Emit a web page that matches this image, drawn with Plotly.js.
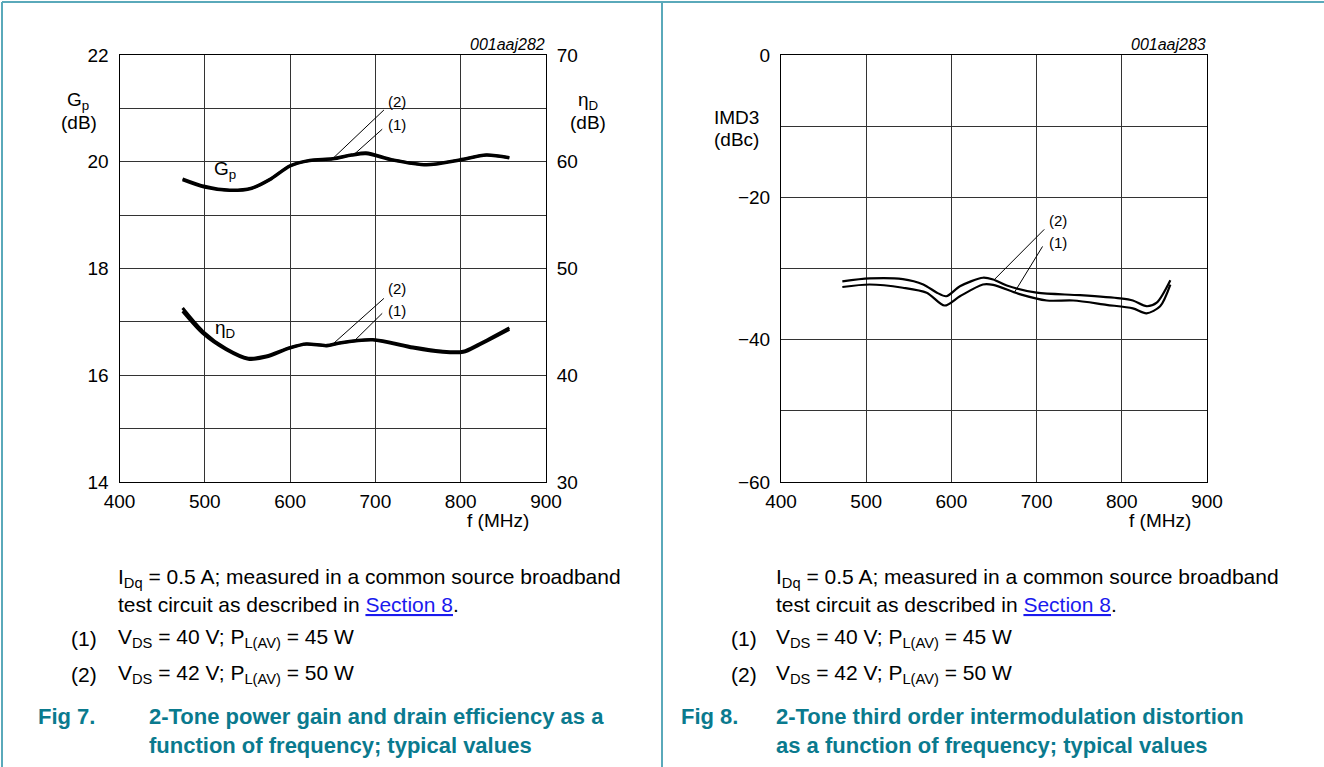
<!DOCTYPE html>
<html>
<head>
<meta charset="utf-8">
<script src="https://cdn.plot.ly/plotly-3.0.1.min.js"></script>
<style>
  html, body { margin: 0; padding: 0; background: #fff; }
  #chart { width: 1324px; height: 767px; }
</style>
</head>
<body>
<div id="chart"></div>
<script>
// Frequency sweep, MHz
const freqGp = [474, 500, 529, 555, 576, 600, 623, 650, 672, 689, 720, 760, 799, 830, 857];
// Power gain, dB: (1) VDS = 40 V, (2) VDS = 42 V
const gp1 = [19.66, 19.52, 19.46, 19.50, 19.66, 19.92, 20.02, 20.05, 20.12, 20.15, 20.03, 19.94, 20.03, 20.12, 20.07];
const gp2 = [19.68, 19.54, 19.47, 19.51, 19.67, 19.93, 20.03, 20.06, 20.13, 20.17, 20.04, 19.95, 20.04, 20.13, 20.08];

const freqEta = [474, 498, 525, 551, 572, 600, 619, 643, 658, 697, 744, 779, 803, 822, 857];
// Drain efficiency
const eta1 = [46.0, 43.9, 42.4, 41.5, 41.7, 42.55, 42.9, 42.75, 43.0, 43.3, 42.55, 42.15, 42.15, 42.85, 44.3];
const eta2 = [46.3, 44.1, 42.5, 41.6, 41.8, 42.6, 42.95, 42.8, 43.05, 43.35, 42.65, 42.25, 42.25, 42.95, 44.45];

// Third-order intermodulation distortion, dBc
const freqImd1 = [472, 504, 543, 571, 592, 610, 637, 649, 680, 712, 743, 782, 813, 829, 845, 857];
const imd1 = [-32.6, -32.25, -32.7, -33.4, -35.2, -33.9, -32.25, -32.3, -33.6, -34.5, -34.5, -35.1, -35.6, -36.3, -35.3, -32.25];
const freqImd2 = [472, 504, 543, 567, 583, 594, 610, 637, 649, 665, 700, 751, 798, 813, 829, 841, 857];
const imd2 = [-31.8, -31.4, -31.5, -32.25, -33.4, -33.9, -32.5, -31.3, -31.55, -32.4, -33.4, -33.75, -34.2, -34.5, -35.3, -34.8, -31.65];

// Axis ticks
const freqTicks = [400, 500, 600, 700, 800, 900];
const gpTicks = [14, 16, 18, 20, 22];
const etaTicks = [30, 40, 50, 60, 70];
const imdTicks = [-60, -40, -20, 0];

// Leader targets: frequency on the curve for series (2) and (1)
const leaderFreq = { s2: 650, s1: 674 };

const W = 1324, H = 767;
const px = x => x / W;
const py = y => 1 - y / H;

function interp(xs, ys, x) {
  for (let i = 0; i < xs.length - 1; i++) {
    if (x >= xs[i] && x <= xs[i + 1]) {
      const t = (x - xs[i]) / (xs[i + 1] - xs[i]);
      return ys[i] + t * (ys[i + 1] - ys[i]);
    }
  }
  return ys[ys.length - 1];
}

const FONT = 'Liberation Sans, Arial, sans-serif';
const TEAL = '#0a7a8e';
const FRAME = '#5aa9ba';
const GRID = '#333';

const curveLine = { color: '#000', width: 3, shape: 'spline', smoothing: 0.8 };
const thinLine = { color: '#000', width: 2.2, shape: 'spline', smoothing: 0.8 };

const traces = [
  { x: freqGp, y: gp1, xaxis: 'x', yaxis: 'y', mode: 'lines', line: curveLine, name: '(1)' },
  { x: freqGp, y: gp2, xaxis: 'x', yaxis: 'y', mode: 'lines', line: curveLine, name: '(2)' },
  { x: freqEta, y: eta1, xaxis: 'x', yaxis: 'y2', mode: 'lines', line: curveLine, name: '(1)' },
  { x: freqEta, y: eta2, xaxis: 'x', yaxis: 'y2', mode: 'lines', line: curveLine, name: '(2)' },
  { x: freqImd1, y: imd1, xaxis: 'x2', yaxis: 'y3', mode: 'lines', line: thinLine, name: '(1)' },
  { x: freqImd2, y: imd2, xaxis: 'x2', yaxis: 'y3', mode: 'lines', line: thinLine, name: '(2)' }
];

const axisCommon = {
  showline: true, mirror: true, linecolor: '#000', linewidth: 1,
  showgrid: true, gridcolor: GRID, gridwidth: 1, zeroline: false,
  ticks: 'outside', ticklen: 6, tickcolor: 'rgba(0,0,0,0)',
  tickfont: { family: FONT, size: 19, color: '#000' }
};

const leftX = [px(119.5), px(546)];
const rightX = [px(781), px(1207)];
const plotY = [py(482), py(55)];

const layout = {
  width: W, height: H,
  margin: { l: 0, r: 0, t: 0, b: 0 },
  paper_bgcolor: '#fff', plot_bgcolor: '#fff',
  showlegend: false,
  font: { family: FONT, color: '#000' },
  xaxis: Object.assign({}, axisCommon, { domain: leftX, anchor: 'y', range: [400, 900], tickvals: freqTicks, ticklen: 2 }),
  yaxis: Object.assign({}, axisCommon, {
    domain: plotY, anchor: 'x', range: [14, 22], tickvals: gpTicks,
    minor: { dtick: 1, showgrid: true, gridcolor: GRID, gridwidth: 1, ticks: '' }
  }),
  yaxis2: Object.assign({}, axisCommon, {
    overlaying: 'y', side: 'right', anchor: 'x', range: [30, 70], tickvals: etaTicks,
    showgrid: false
  }),
  xaxis2: Object.assign({}, axisCommon, { domain: rightX, anchor: 'y3', range: [400, 900], tickvals: freqTicks, ticklen: 2 }),
  yaxis3: Object.assign({}, axisCommon, {
    domain: plotY, anchor: 'x2', range: [-60, 0], tickvals: imdTicks,
    minor: { dtick: 10, showgrid: true, gridcolor: GRID, gridwidth: 1, ticks: '' }
  }),
  shapes: [],
  annotations: []
};

// Page frame
const frameLine = { color: FRAME, width: 2 };
layout.shapes.push(
  { type: 'line', xref: 'paper', yref: 'paper', x0: px(2), x1: px(1324), y0: py(2), y1: py(2), line: frameLine },
  { type: 'line', xref: 'paper', yref: 'paper', x0: px(2), x1: px(2), y0: py(2), y1: py(767), line: frameLine },
  { type: 'line', xref: 'paper', yref: 'paper', x0: px(662), x1: px(662), y0: py(2), y1: py(767), line: frameLine }
);

// Gaps in the grid behind the curve names
layout.shapes.push(
  { type: 'rect', xref: 'x', yref: 'y', x0: 505, x1: 549, y0: 19.95, y1: 20.05, layer: 'below',
    fillcolor: '#fff', line: { width: 0 } },
  { type: 'rect', xref: 'x', yref: 'y', x0: 505, x1: 549, y0: 16.95, y1: 17.05, layer: 'below',
    fillcolor: '#fff', line: { width: 0 } }
);

const ann = layout.annotations;
function text(t, x, y, opts) {
  ann.push(Object.assign({
    text: t, xref: 'paper', yref: 'paper', x: px(x), y: py(y),
    xanchor: 'left', yanchor: 'middle', showarrow: false,
    font: { family: FONT, size: 21, color: '#000' }
  }, opts || {}));
}

const axFont = { family: FONT, size: 19, color: '#000' };
// Axis titles
text('G<sub>p</sub>', 78, 101, { xanchor: 'center', font: axFont });
text('(dB)', 79, 122, { xanchor: 'center', font: axFont });
text('η<sub>D</sub>', 588, 101, { xanchor: 'center', font: axFont });
text('(dB)', 588, 122, { xanchor: 'center', font: axFont });
text('f (MHz)', 498, 520, { xanchor: 'center', font: axFont });
text('IMD3', 737, 117, { xanchor: 'center', font: axFont });
text('(dBc)', 737, 139, { xanchor: 'center', font: axFont });
text('f (MHz)', 1160, 520, { xanchor: 'center', font: axFont });
text('<i>001aaj282</i>', 547, 44, { xanchor: 'right', font: { family: FONT, size: 16, color: '#000' } });
text('<i>001aaj283</i>', 1208, 44, { xanchor: 'right', font: { family: FONT, size: 16, color: '#000' } });

// Curve labels inside the left plot
ann.push({ text: 'G<sub>p</sub>', xref: 'x', yref: 'y', x: 524, y: 19.84, showarrow: false,
  font: { family: FONT, size: 19 } });
ann.push({ text: 'η<sub>D</sub>', xref: 'x', yref: 'y', x: 524, y: 16.86, showarrow: false,
  font: { family: FONT, size: 19 } });

// Leader lines and (1)/(2) tags
function leaders(xr, yr, xs1, ys1, xs2, ys2, tag2, tag1, top2, top1) {
  const lf = { color: '#000', width: 1 };
  const y2t = interp(xs2, ys2, leaderFreq.s2);
  const y1t = interp(xs1, ys1, leaderFreq.s1);
  layout.shapes.push(
    { type: 'line', xref: xr, yref: yr, x0: leaderFreq.s2, y0: y2t, x1: top2[0], y1: top2[1], line: lf },
    { type: 'line', xref: xr, yref: yr, x0: leaderFreq.s1, y0: y1t, x1: top1[0], y1: top1[1], line: lf }
  );
  ann.push({ text: '(2)', xref: xr, yref: yr, x: tag2[0], y: tag2[1], showarrow: false,
    font: { family: FONT, size: 15 } });
  ann.push({ text: '(1)', xref: xr, yref: yr, x: tag1[0], y: tag1[1], showarrow: false,
    font: { family: FONT, size: 15 } });
}
leaders('x', 'y', freqGp, gp1, freqGp, gp2, [725, 21.12], [725, 20.69], [710, 20.97], [708, 20.61]);
leaders('x', 'y2', freqEta, eta1, freqEta, eta2, [725, 48.15], [725, 46.1], [710, 47.2], [708, 45.8]);
leaders('x2', 'y3', freqImd1, imd1, freqImd2, imd2, [725, -23.2], [725, -26.3], [709, -24.5], [707, -26.9]);

// Captions: x positions for body text, item numbers, figure number and title
const link = '<span style="color:#1a1aee"><u>Section 8</u></span>';
function caption(xBody, xNum, xFig, xTitle, num, title1, title2) {
  text('I<sub>Dq</sub> = 0.5 A; measured in a common source broadband', xBody, 578);
  text('test circuit as described in ' + link + '.', xBody, 604);
  text('(1)', xNum, 638);
  text('V<sub>DS</sub> = 40 V; P<sub>L(AV)</sub> = 45 W', xBody, 638);
  text('(2)', xNum, 674);
  text('V<sub>DS</sub> = 42 V; P<sub>L(AV)</sub> = 50 W', xBody, 674);
  const bold = { family: FONT, size: 22, color: TEAL };
  text('<b>Fig ' + num + '.</b>', xFig, 716, { font: bold });
  text('<b>' + title1 + '</b>', xTitle, 716, { font: bold });
  text('<b>' + title2 + '</b>', xTitle, 745, { font: bold });
}
caption(116, 69, 36, 147, 7, '2-Tone power gain and drain efficiency as a', 'function of frequency; typical values');
caption(774, 729, 679, 774, 8, '2-Tone third order intermodulation distortion', 'as a function of frequency; typical values');

Plotly.newPlot('chart', traces, layout, { displayModeBar: false, staticPlot: true });
</script>
</body>
</html>
